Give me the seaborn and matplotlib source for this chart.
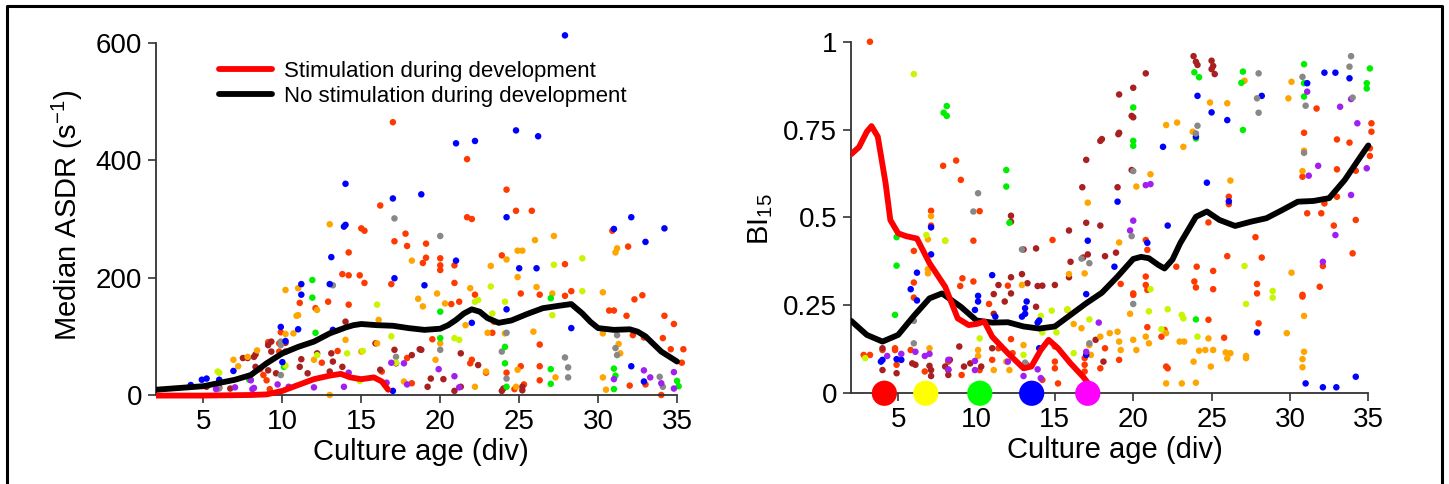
import numpy as np
import pandas as pd
import matplotlib
matplotlib.use("Agg")
import matplotlib.pyplot as plt
from matplotlib.lines import Line2D
import seaborn as sns

# ---- colours used for the individual cultures ----
culture_colors = {
    "orangered": "#ff3a00",
    "darkred": "#a82020",
    "orange": "#ffa500",
    "yellowgreen": "#c8f500",
    "green": "#00ee00",
    "blue": "#0000ff",
    "purple": "#a020f0",
    "gray": "#888888",
}

# ---- left panel: median ASDR (s^-1) per recording, (div, value) ----
asdr_orangered = [(17.0, 465), (21.7, 402), (24.2, 350), (21.7, 303), (22.0, 300), (24.8, 314),
                  (25.8, 314), (16.2, 323), (15.0, 284), (15.2, 280), (13.8, 206), (14.2, 204),
                  (14.9, 204), (14.2, 243), (17.1, 262), (17.8, 275), (17.9, 254), (19.1, 258),
                  (19.1, 234), (18.9, 225), (20.0, 233), (20.0, 221), (20.0, 213), (20.9, 221),
                  (20.9, 191), (15.2, 191), (16.9, 189), (12.9, 159), (14.2, 154), (12.1, 148),
                  (11.1, 157), (23.9, 238), (27.9, 223), (31.9, 253), (30.9, 280), (25.1, 173),
                  (26.3, 171), (28.3, 177), (27.9, 169), (21.2, 159), (20.7, 155), (22.2, 171),
                  (32.3, 163), (32.8, 170), (30.7, 144), (31.0, 144), (31.8, 135), (34.2, 135),
                  (34.8, 121), (32.9, 98), (32.2, 102), (34.1, 97), (34.6, 78), (35.4, 78),
                  (25.1, 49), (26.3, 49), (22.9, 38), (21.9, 54), (24.2, 38), (23.4, 125),
                  (23.3, 106), (26.3, 86), (9.1, 90), (9.8, 88), (9.8, 74), (9.9, 107),
                  (8.6, 44), (8.8, 34), (9.0, 25), (9.2, 10), (12.5, 55), (13.5, 75),
                  (16.3, 40), (18.2, 20), (24.7, 10), (25.3, 18), (26.3, 25), (32.0, 16),
                  (33.0, 18), (34.0, 0), (17.9, 63), (19.5, 95), (22.0, 60), (35.3, 55)]
asdr_darkred = [(14.0, 125), (13.1, 71), (13.2, 57), (12.2, 71), (11.2, 61), (10.2, 89), (9.3, 91),
                (9.3, 74), (10.2, 74), (8.2, 65), (7.8, 63), (8.3, 48), (9.1, 42), (9.6, 37),
                (11.1, 48), (11.6, 37), (13.0, 40), (13.8, 48), (16.2, 43), (15.9, 88), (17.1, 77),
                (17.2, 54), (18.2, 68), (18.7, 78), (19.4, 28), (19.2, 14), (20.2, 27), (20.9, 7),
                (21.3, 14), (23.9, 7), (24.0, 11), (25.2, 14), (25.2, 8), (22.4, 51), (21.3, 71),
                (18.8, 77), (5.2, 14), (6.0, 13), (6.7, 11), (7.5, 63), (8.3, 69), (9.1, 85)]
asdr_orange = [(13.0, 291), (16.1, 128), (18.2, 229), (18.6, 164), (18.9, 151), (19.8, 173),
               (20.3, 156), (21.9, 182), (23.2, 220), (24.2, 231), (24.9, 246), (25.2, 246),
               (24.9, 201), (26.0, 264), (27.2, 271), (27.1, 173), (26.1, 184), (30.3, 175),
               (31.1, 243), (31.2, 250), (30.3, 105), (31.3, 87), (31.4, 71), (10.2, 179),
               (11.0, 182), (10.9, 135), (11.0, 136), (10.7, 105), (12.2, 145), (12.0, 60),
               (6.9, 60), (7.2, 49), (8.4, 76), (7.8, 65), (14.0, 94), (15.0, 74), (16.0, 88),
               (22.2, 14), (22.9, 40), (23.0, 106), (21.6, 119), (20.0, 88), (19.7, 60),
               (24.1, 105), (24.9, 43), (25.9, 108), (27.3, 30), (30.3, 30), (30.5, 9),
               (24.8, 14), (13.0, 0), (17.7, 23), (10.2, 104)]
asdr_gray = [(17.1, 301), (20.0, 271), (13.2, 187), (17.2, 65), (20.0, 77), (23.9, 74), (24.2, 106),
             (24.2, 28), (27.9, 64), (28.1, 47), (28.1, 30), (31.1, 80), (31.2, 68), (31.2, 102),
             (33.9, 31), (34.1, 14), (9.9, 34), (9.9, 91), (9.9, 85), (6.0, 11)]
asdr_green = [(11.9, 196), (11.9, 166), (12.1, 106), (20.0, 142), (20.0, 97), (24.1, 82), (24.1, 54),
              (24.2, 14), (27.0, 165), (27.0, 44), (27.0, 19), (31.0, 45), (31.0, 10), (31.1, 33),
              (35.0, 24), (35.1, 15), (8.0, 26), (10.1, 48), (7.9, 26)]
asdr_yellowgreen = [(16.0, 154), (16.9, 100), (17.2, 55), (15.1, 75), (21.2, 94), (20.9, 97),
                    (22.2, 159), (22.4, 162), (23.2, 185), (24.1, 159), (27.2, 222), (29.0, 233),
                    (29.0, 177), (27.1, 136), (23.3, 139), (14.1, 71), (12.2, 68), (5.9, 40),
                    (14.9, 24), (10.2, 50), (6.0, 38)]
asdr_purple = [(16.9, 55), (17.7, 54), (17.9, 18), (19.9, 44), (20.9, 32), (21.2, 13), (16.6, 21),
               (14.2, 38), (13.9, 14), (12.0, 13), (10.4, 14), (8.1, 10), (7.0, 13), (5.8, 10),
               (31.0, 27), (32.9, 42), (33.3, 30), (34.8, 39), (34.8, 11), (34.0, 20), (8.0, 25),
               (8.2, 12), (9.7, 18)]
asdr_blue = [(27.9, 613), (14.0, 360), (13.9, 287), (14.0, 290), (17.0, 335), (18.8, 342), (21.0, 429),
             (22.2, 433), (24.8, 451), (26.2, 441), (24.2, 303), (32.1, 303), (31.0, 283), (34.2, 284),
             (33.0, 261), (13.1, 235), (21.0, 229), (25.0, 216), (26.1, 216), (19.0, 187), (17.1, 199),
             (13.0, 189), (11.2, 189), (11.2, 171), (9.9, 116), (11.0, 112), (10.2, 92), (10.0, 56),
             (13.2, 111), (24.2, 146), (22.0, 123), (28.3, 114), (32.1, 49), (32.9, 23), (6.9, 41),
             (4.9, 26), (5.2, 28), (4.2, 17), (6.0, 26), (17.0, 7)]

# smoothed trends, left panel
asdr_nostim_div = [2, 5, 7, 8, 9, 10, 11, 12, 13, 14, 14.5, 15, 16, 17, 18, 19, 20, 20.5, 21, 21.5,
                   22, 22.5, 23, 23.7, 24.5, 25.5, 26.5, 27.5, 28.3, 29, 29.5, 30, 31, 32, 32.5,
                   33, 34, 35]
asdr_nostim = [9, 15, 26, 34, 54, 71, 82, 91, 105, 115, 119, 121, 119, 118, 114, 111, 113, 119, 128,
               139, 146, 142, 131, 123, 127, 138, 148, 152, 155, 139, 125, 114, 111, 112, 108, 100,
               74, 57]
asdr_stim_div = [2, 5, 8, 9, 10, 11, 12, 13, 13.7, 14.3, 15, 15.8, 16.3, 16.7]
asdr_stim = [-1, -1, 0, 1, 7, 17, 27, 33, 36, 30, 27, 30, 23, 9]

# ---- right panel: BI15 per recording ----
bi_orangered = [(3.2, 1.0), (7.87, 0.647), (8.7, 0.662), (9.0, 0.607), (10.2, 0.518), (9.8, 0.434),
                (7.1, 0.519), (7.1, 0.477), (6.0, 0.405), (6.0, 0.315), (6.0, 0.272), (9.1, 0.327),
                (8.96, 0.305), (9.8, 0.318), (10.8, 0.254), (12.0, 0.306), (14.85, 0.436), (31.7, 0.81),
                (30.9, 0.741), (33.0, 0.722), (33.8, 0.713), (35.2, 0.768), (35.2, 0.744), (35.1, 0.697),
                (35.1, 0.675), (34.2, 0.633), (33.0, 0.637), (30.8, 0.616), (33.0, 0.559), (32.2, 0.54),
                (31.1, 0.512), (32.0, 0.512), (34.2, 0.493), (32.8, 0.477), (34.0, 0.398), (26.1, 0.559),
                (26.1, 0.538), (24.8, 0.486), (26.0, 0.39), (32.1, 0.362), (28.2, 0.386), (27.8, 0.444),
                (27.9, 0.311), (27.9, 0.284), (28.0, 0.199), (30.8, 0.28), (30.8, 0.275), (31.9, 0.303),
                (24.05, 0.36), (25.1, 0.348), (23.9, 0.318), (24.0, 0.301), (25.1, 0.296), (22.75, 0.36),
                (20.8, 0.332), (20.8, 0.308), (20.9, 0.294), (20.0, 0.284), (20.0, 0.28), (19.2, 0.311),
                (20.9, 0.408), (20.8, 0.436), (24.8, 0.209), (25.8, 0.158), (22.1, 0.076), (22.2, 0.071),
                (19.1, 0.095), (18.2, 0.128), (17.9, 0.071), (16.9, 0.1), (16.9, 0.081), (16.9, 0.062),
                (15.0, 0.133), (15.0, 0.09), (15.0, 0.071), (15.2, 0.028), (14.2, 0.038), (13.2, 0.081),
                (12.3, 0.114), (12.2, 0.154), (11.4, 0.128), (11.0, 0.095), (10.2, 0.066), (9.05, 0.052),
                (8.2, 0.09), (4.8, 0.128), (4.8, 0.123), (4.9, 0.081), (4.0, 0.123), (3.2, 0.109),
                (2.8, 0.109), (6.7, 0.062), (5.8, 0.123), (21.8, 0.161), (22.0, 0.18), (20.9, 0.188)]
bi_darkred = [(23.85, 0.959), (24.0, 0.943), (24.1, 0.934), (25.0, 0.946), (25.1, 0.931), (25.2, 0.908),
              (25.0, 0.922), (20.8, 0.91), (20.0, 0.869), (19.9, 0.789), (20.0, 0.785), (19.1, 0.85),
              (19.1, 0.741), (19.05, 0.737), (18.0, 0.723), (17.9, 0.718), (19.0, 0.586), (19.9, 0.635),
              (16.75, 0.586), (17.0, 0.664), (17.0, 0.485), (17.9, 0.477), (15.9, 0.463), (18.9, 0.4),
              (18.2, 0.39), (16.0, 0.374), (15.9, 0.33), (17.1, 0.395), (16.8, 0.386), (13.8, 0.412),
              (13.0, 0.409), (12.2, 0.505), (12.2, 0.488), (12.2, 0.33), (12.2, 0.284), (11.4, 0.308),
              (11.1, 0.282), (12.9, 0.339), (13.25, 0.313), (13.9, 0.305), (14.2, 0.306), (13.8, 0.246),
              (15.0, 0.308), (11.8, 0.261), (11.1, 0.226), (8.9, 0.133), (8.3, 0.095), (8.0, 0.076),
              (8.2, 0.066), (8.2, 0.052), (7.0, 0.078), (7.1, 0.066), (7.1, 0.049), (5.9, 0.085),
              (6.1, 0.081), (4.0, 0.066), (4.0, 0.128), (4.9, 0.057), (9.6, 0.085), (9.2, 0.076),
              (10.3, 0.076), (11.0, 0.128), (18.1, 0.09), (17.6, 0.152)]
bi_orange = [(24.9, 0.827), (26.0, 0.825), (27.1, 0.889), (30.1, 0.886), (29.9, 0.839), (22.1, 0.763),
             (22.8, 0.77), (23.2, 0.701), (23.8, 0.744), (21.1, 0.623), (20.2, 0.588), (26.2, 0.605),
             (30.9, 0.69), (30.8, 0.632), (30.9, 0.22), (30.9, 0.118), (30.8, 0.097), (30.8, 0.074),
             (29.8, 0.171), (30.1, 0.343), (19.1, 0.429), (17.1, 0.542), (16.9, 0.341), (15.9, 0.339),
             (15.8, 0.237), (16.2, 0.197), (16.7, 0.185), (17.2, 0.137), (17.3, 0.109), (17.9, 0.161),
             (18.5, 0.171), (19.0, 0.175), (19.1, 0.147), (19.2, 0.123), (19.8, 0.226), (20.0, 0.152),
             (20.2, 0.123), (20.8, 0.161), (21.0, 0.142), (22.1, 0.171), (22.1, 0.028), (23.1, 0.028),
             (24.0, 0.03), (22.96, 0.147), (23.25, 0.147), (23.85, 0.09), (24.2, 0.121), (24.6, 0.123),
             (24.8, 0.156), (24.95, 0.076), (25.1, 0.123), (25.9, 0.116), (26.0, 0.099), (26.2, 0.114),
             (27.2, 0.106), (27.2, 0.1), (12.9, 0.308), (13.0, 0.137), (10.1, 0.123), (10.1, 0.106),
             (11.9, 0.09), (12.1, 0.066), (11.1, 0.066), (6.9, 0.341), (7.1, 0.504), (6.9, 0.438),
             (6.9, 0.353), (8.0, 0.434), (7.0, 0.128)]
bi_yellowgreen = [(6.0, 0.908), (27.1, 0.362), (27.2, 0.254), (28.9, 0.291), (28.9, 0.272), (21.1, 0.296),
                  (21.0, 0.233), (22.2, 0.239), (23.1, 0.223), (23.2, 0.213), (24.1, 0.161), (21.8, 0.182),
                  (15.8, 0.239), (14.8, 0.235), (14.1, 0.22), (17.2, 0.21), (15.1, 0.173), (16.2, 0.114),
                  (13.0, 0.109), (14.2, 0.173), (6.8, 0.45), (8.0, 0.434), (2.9, 0.1), (10.2, 0.156)]
bi_green = [(23.9, 0.913), (24.2, 0.899), (24.0, 0.725), (27.0, 0.915), (26.9, 0.883), (27.0, 0.749),
            (30.9, 0.936), (30.9, 0.882), (30.9, 0.844), (34.9, 0.882), (34.9, 0.867), (35.1, 0.924),
            (20.0, 0.813), (20.0, 0.718), (20.0, 0.704), (8.1, 0.817), (7.9, 0.798), (8.1, 0.789),
            (11.9, 0.635), (11.9, 0.588), (12.1, 0.485), (4.9, 0.444), (4.9, 0.363), (4.8, 0.223),
            (24.0, 0.21)]
bi_blue = [(24.1, 0.846), (28.2, 0.846), (25.0, 0.799), (26.0, 0.777), (24.0, 0.73), (21.9, 0.701),
           (24.7, 0.599), (26.1, 0.546), (31.1, 0.882), (32.2, 0.912), (32.9, 0.912), (33.8, 0.896),
           (22.2, 0.477), (19.0, 0.545), (20.9, 0.428), (17.1, 0.434), (7.1, 0.472), (7.1, 0.395),
           (6.2, 0.343), (6.2, 0.264), (5.8, 0.296), (11.0, 0.336), (10.1, 0.277), (10.1, 0.261),
           (9.9, 0.237), (13.2, 0.261), (13.1, 0.242), (13.1, 0.226), (12.9, 0.218), (14.0, 0.207),
           (13.9, 0.201), (11.2, 0.218), (17.0, 0.282), (31.0, 0.028), (32.1, 0.017), (32.96, 0.017),
           (34.2, 0.047), (27.9, 0.173), (18.8, 0.36), (4.0, 0.095), (3.9, 0.09), (4.9, 0.097),
           (5.2, 0.095), (17.0, 0.109), (14.0, 0.128)]
bi_purple = [(31.1, 0.858), (33.9, 0.837), (33.2, 0.815), (34.3, 0.768), (33.9, 0.564), (31.8, 0.647),
             (31.2, 0.619), (32.1, 0.374), (32.9, 0.45), (34.9, 0.64), (21.1, 0.595), (20.8, 0.592),
             (20.0, 0.491), (19.8, 0.463), (17.0, 0.118), (17.8, 0.201), (14.1, 0.043), (13.9, 0.068),
             (13.0, 0.049), (12.0, 0.09), (9.9, 0.092), (9.9, 0.066), (8.2, 0.095), (8.2, 0.068),
             (6.7, 0.106), (7.0, 0.112), (6.1, 0.118), (5.2, 0.112), (4.3, 0.106)]
bi_gray = [(33.9, 0.959), (33.8, 0.929), (34.0, 0.841), (30.8, 0.9), (31.0, 0.818), (30.9, 0.684),
           (28.0, 0.91), (27.9, 0.839), (28.0, 0.798), (24.1, 0.761), (24.0, 0.739), (20.0, 0.632),
           (19.9, 0.447), (20.0, 0.254), (10.1, 0.569), (9.8, 0.517), (12.9, 0.409), (17.2, 0.37),
           (16.7, 0.383), (17.2, 0.142), (6.0, 0.206), (6.0, 0.142), (13.1, 0.087)]

# smoothed trends, right panel
bi_nostim_div = [2, 3, 4, 5, 6, 7, 7.8, 9, 10, 11, 12, 13, 14, 15, 16, 17, 18, 19, 20, 20.5, 21,
                 21.6, 22, 22.5, 23, 24, 24.7, 25.5, 26.5, 27.5, 28.5, 29.5, 30.5, 31.5, 32.5,
                 33.5, 34.5, 35]
bi_nostim = [0.206, 0.166, 0.147, 0.166, 0.22, 0.27, 0.284, 0.246, 0.207, 0.201, 0.202, 0.19, 0.184,
             0.19, 0.223, 0.256, 0.286, 0.332, 0.382, 0.388, 0.384, 0.365, 0.355, 0.38, 0.427, 0.502,
             0.517, 0.493, 0.476, 0.488, 0.498, 0.521, 0.545, 0.547, 0.555, 0.607, 0.673, 0.705]
bi_stim_div = [2, 2.5, 3, 3.3, 3.7, 4.2, 4.5, 5, 5.5, 6.2, 7, 8, 8.8, 9.5, 10, 10.5, 11, 12, 13, 13.5,
               14.1, 14.6, 15.2, 16, 16.8, 17.2]
bi_stim = [0.68, 0.70, 0.744, 0.76, 0.73, 0.597, 0.493, 0.455, 0.447, 0.44, 0.37, 0.303, 0.213, 0.194,
           0.197, 0.204, 0.161, 0.114, 0.071, 0.076, 0.123, 0.152, 0.128, 0.085, 0.047, 0.024]

# stimulation-onset markers on the BI axis
onset_div = [4.12, 6.76, 10.21, 13.52, 17.1]
onset_colors = ["#ff0000", "#ffff00", "#00ff00", "#0000ff", "#ff00ff"]


def to_frame(groups):
    rows = []
    for name, pts in groups.items():
        for x, y in pts:
            rows.append({"div": x, "value": y, "culture": name})
    return pd.DataFrame(rows)


asdr_df = to_frame({"orangered": asdr_orangered, "darkred": asdr_darkred, "orange": asdr_orange,
                    "gray": asdr_gray, "green": asdr_green, "yellowgreen": asdr_yellowgreen,
                    "purple": asdr_purple, "blue": asdr_blue})
bi_df = to_frame({"orangered": bi_orangered, "darkred": bi_darkred, "orange": bi_orange,
                  "yellowgreen": bi_yellowgreen, "green": bi_green, "blue": bi_blue,
                  "purple": bi_purple, "gray": bi_gray})

sns.set_style("white")
plt.rcParams["font.family"] = ["Liberation Sans", "DejaVu Sans"]
plt.rcParams["mathtext.fontset"] = "custom"
plt.rcParams["mathtext.rm"] = "Liberation Sans"
plt.rcParams["mathtext.it"] = "Liberation Sans"
for key in ("text.color", "axes.labelcolor", "xtick.color", "ytick.color"):
    plt.rcParams[key] = "black"

fig = plt.figure(figsize=(14.49, 4.84), dpi=100)
ax1 = fig.add_axes([0.1077, 0.1742, 0.3661, 0.7612])
ax2 = fig.add_axes([0.5874, 0.1657, 0.3634, 0.7626])

line_w = 4.2
tick_fs = 20
label_fs = 21
dot_size = 22


def style_axis(ax, xlim, ylim, ybounds):
    ax.set_xlim(*xlim)
    ax.set_ylim(*ylim)
    ax.spines["top"].set_visible(False)
    ax.spines["right"].set_visible(False)
    for side in ("left", "bottom"):
        ax.spines[side].set_color("#333333")
        ax.spines[side].set_linewidth(1.3)
    ax.spines["bottom"].set_position(("data", 0))
    ax.spines["bottom"].set_bounds(2, 35)
    ax.spines["left"].set_bounds(*ybounds)
    ax.set_xticks([5, 10, 15, 20, 25, 30, 35])
    ax.tick_params(axis="both", direction="out", length=6, width=1.2, color="#333333",
                   labelsize=tick_fs, left=True, bottom=True, pad=4)


# ---- left panel ----
sns.scatterplot(data=asdr_df, x="div", y="value", hue="culture", palette=culture_colors,
                s=dot_size, linewidth=0, legend=False, ax=ax1, zorder=2)
sns.lineplot(x=asdr_stim_div, y=asdr_stim, color="#ff0000", linewidth=line_w, ax=ax1,
             zorder=4, solid_capstyle="round", solid_joinstyle="round")
sns.lineplot(x=asdr_nostim_div, y=asdr_nostim, color="black", linewidth=line_w, ax=ax1,
             zorder=4, solid_capstyle="round", solid_joinstyle="round")
style_axis(ax1, (2, 35.6), (-8, 620), (0, 600))
ax1.set_yticks([0, 200, 400, 600])
ax1.set_xlabel("Culture age (div)", fontsize=label_fs, labelpad=2)
ax1.set_ylabel("Median ASDR (s$^{-1}$)", fontsize=label_fs, labelpad=8)
legend_handles = [Line2D([0], [0], color="#ff0000", lw=line_w),
                  Line2D([0], [0], color="black", lw=line_w)]
ax1.legend(legend_handles, ["Stimulation during development", "No stimulation during development"],
           loc="upper left", bbox_to_anchor=(0.118, 0.92), borderaxespad=0, borderpad=0,
           frameon=False, fontsize=16, handlelength=2.4, handletextpad=0.55, labelspacing=0.2)

# ---- right panel ----
sns.scatterplot(data=bi_df, x="div", y="value", hue="culture", palette=culture_colors,
                s=dot_size, linewidth=0, legend=False, ax=ax2, zorder=2)
sns.lineplot(x=bi_nostim_div, y=bi_nostim, color="black", linewidth=line_w, ax=ax2,
             zorder=4, solid_capstyle="round", solid_joinstyle="round")
sns.lineplot(x=bi_stim_div, y=bi_stim, color="#ff0000", linewidth=line_w, ax=ax2,
             zorder=5, solid_capstyle="round", solid_joinstyle="round")
ax2.scatter(onset_div, [0] * len(onset_div), s=330, c=onset_colors, linewidths=0,
            zorder=6, clip_on=False)
style_axis(ax2, (2, 35.6), (-0.03, 1.02), (0, 1))
ax2.set_yticks([0, 0.25, 0.5, 0.75, 1])
ax2.set_yticklabels(["0", "0.25", "0.5", "0.75", "1"])
ax2.set_xlabel("Culture age (div)", fontsize=label_fs, labelpad=2)
ax2.set_ylabel("BI$_{15}$", fontsize=label_fs, labelpad=6)

# outer frame of the figure panel
W, H = 1449.0, 484.0
frame_x = [7 / W, 7 / W, 1442 / W, 1442 / W]
frame_y = [0.0, 1 - 6 / H, 1 - 6 / H, 0.0]
fig.add_artist(Line2D(frame_x, frame_y, transform=fig.transFigure, color="black", linewidth=2.2))

fig.savefig("out.png", dpi=100)
